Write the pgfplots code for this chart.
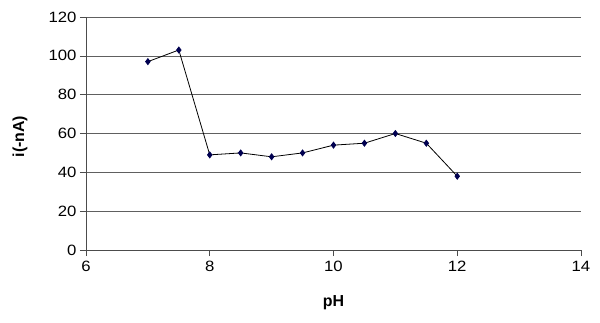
\documentclass[border=0pt]{standalone}
\usepackage{pgfplots}
\pgfplotsset{compat=1.18}
\usepackage{fontspec}
\setmainfont{Liberation Sans}
\newfontfamily\tickfont[FakeStretch=1.12]{Liberation Sans}
\definecolor{mk}{HTML}{000050}
\begin{document}
\begin{tikzpicture}
\begin{axis}[
  at={(0,0)}, anchor=south west,
  scale only axis, width=495bp, height=233bp,
  xmin=6, xmax=14, ymin=0, ymax=120,
  xtick={6,8,...,14}, ytick={0,20,...,120},
  axis lines=left, axis line style={gray!60!black, -},
  tick style={gray!60!black, line width=0.6pt},
  tick align=outside, major tick length=6bp,
  ymajorgrids, grid style={gray!75!black, line width=0.6pt},
  /pgf/number format/assume math mode=true,
  tick label style={font=\tickfont\fontsize{15}{17}\selectfont},
  yticklabel style={xshift=0bp},
  xticklabel style={yshift=-2bp},
  xlabel={pH}, ylabel={i(-nA)},
  every axis x label/.style={at={(axis description cs:0.5,0)}, yshift=-53bp, anchor=center, font=\fontsize{16}{18}\selectfont\bfseries},
  every axis y label/.style={at={(axis description cs:0,0.5)}, xshift=-66bp, yshift=-3bp, rotate=90, anchor=center, font=\fontsize{16}{18}\selectfont\bfseries},
  clip=false,
]
\addplot[black, line width=0.8pt, mark=diamond*, mark size=3bp, mark options={fill=mk, draw=mk}]
  coordinates {(7,97) (7.5,103) (8,49) (8.5,50) (9,48) (9.5,50) (10,54) (10.5,55) (11,60) (11.5,55) (12,38)};
\end{axis}
\path[use as bounding box] (-86bp,-73bp) rectangle (514bp,250bp);
\end{tikzpicture}
\end{document}
